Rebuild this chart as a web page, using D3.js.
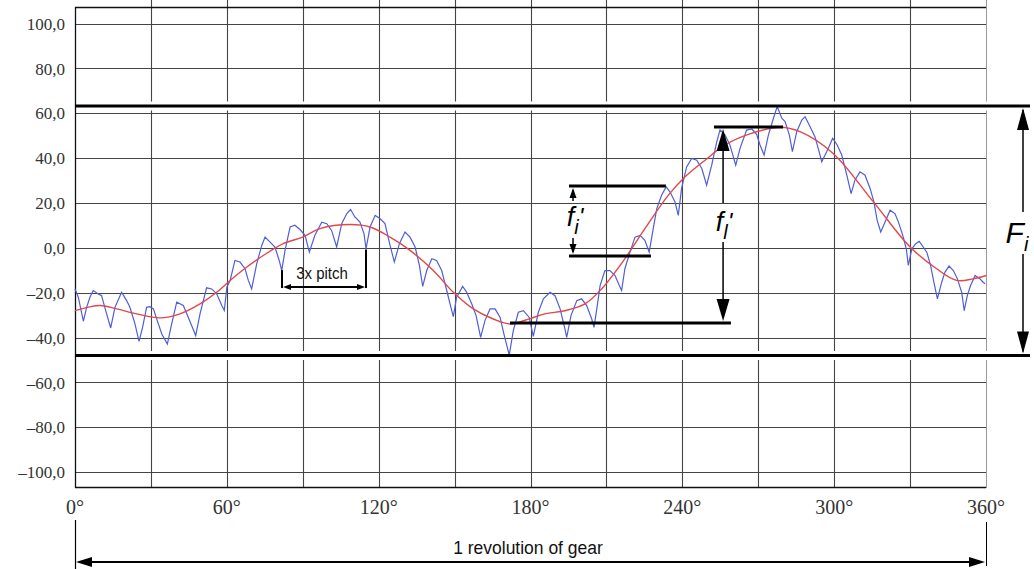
<!DOCTYPE html>
<html>
<head>
<meta charset="utf-8">
<script src="https://cdn.jsdelivr.net/npm/d3@7"></script>
<style>
html,body{margin:0;padding:0;background:#fff;}
svg{display:block;}
</style>
</head>
<body>
<svg id="chart" width="1034" height="569"></svg>
<script>
// ---------- DATA ----------
const xTicks = [0, 60, 120, 180, 240, 300, 360];
const xGrid = [0, 30, 60, 90, 120, 150, 180, 210, 240, 270, 300, 330, 360];
const yTicks = [100, 80, 60, 40, 20, 0, -20, -40, -60, -80, -100];

// measured (blue) trace: angle in degrees, deviation
const blueDeg = [0,1.3,3.3,4.6,5.9,7.2,9.2,10.5,12.5,14.1,15.8,18.4,20.4,21.7,23.7,25.3,26.7,28.3,29.6,31,32.5,34.3,36.5,38.2,40.2,42.8,44.8,47.7,49.4,52,54,56,58,59,60,61.3,63.2,65.2,67.2,68.5,69.8,71.8,73.8,75.1,77.1,79,80.7,81.7,83,85,86.9,88.9,90.9,92.6,94.8,97.5,99.5,101.4,103.4,105.4,107.4,108.9,110.6,112.6,114.2,115,116.6,118.6,120.5,122.5,124.5,126.2,128.2,130.4,132.4,134.4,136.1,137.4,139,141,142.9,144.9,146.9,148.2,149.5,150.8,153.2,154.8,156.8,158.5,160.3,162,164,166,168,169.5,171.6,173.2,175.2,177.2,179.5,181.1,183.1,185.1,187.7,189.7,191.7,193.6,194.3,196,198.3,200.2,202.2,204.2,205.1,206.2,207.5,209.4,211.4,213.4,215.1,216,217.3,219.3,221.3,223.3,225.2,226.9,228.5,229.9,231.8,233.6,235.1,237.1,238.4,239.7,241.7,243.7,245.7,247.7,249.6,251.6,253.6,254.9,256.9,258.8,261.1,262.8,265.4,267.5,269.4,270.7,272.3,274,276,277.5,279.3,280.6,282.3,283.5,285.2,287.2,288.5,290.5,292.4,293.7,295.1,296.4,297.7,299.4,301.2,303,305,306.7,308.2,310.2,312.2,314.2,315.7,317,318.4,320.1,322.1,324,325.4,327.1,328.5,329.3,330.7,332.2,333.6,335.2,336.6,338.1,339.4,340.8,342.5,343.8,345.4,347.1,348.7,350.4,351.4,352.6,353.9,355.7,357.6,358.9,359.6];
const blueVal = [-18.3,-22,-32.7,-26.5,-22,-19,-20.5,-21.3,-29.4,-35.7,-26.5,-19.8,-23.5,-26.5,-33.9,-41.7,-35.4,-26.5,-26.2,-27.2,-32.4,-38.4,-42.9,-33.9,-24.2,-25.7,-31,-39.1,-29.4,-17.8,-18.3,-20.5,-25.7,-27.9,-17.5,-14.5,-5.6,-6.3,-9.3,-14.5,-18.3,-7.1,1.1,4.8,2.6,0.4,-5.6,-10.1,-1.1,9.3,10.1,8.2,5.6,-1.9,5.6,11.5,10.8,7.8,0.4,10.8,15.3,17.1,13.8,11.5,6.4,-0.4,9.3,14.5,13.1,10.8,1.1,-6.3,1.9,7.1,4.8,0.4,-7.8,-17.2,-10.1,-4.8,-5.6,-10.1,-19,-25,-30.6,-22,-17.2,-19.8,-25,-30.2,-39.9,-32.4,-27.2,-27.2,-31,-38.4,-47.8,-36.9,-28.7,-28,-31,-39.5,-28.7,-22.7,-19.8,-21.3,-27.2,-36.1,-39.9,-30.2,-23.5,-22.7,-25.7,-31.7,-35.4,-27.2,-16.8,-10.1,-10.1,-12.3,-16.8,-19,-9.3,-1.9,4.8,5.6,3.4,-1.9,8.6,17.5,23.5,27.2,25,20.5,14.5,26.5,36.1,39.9,39.1,35.4,28,36.9,47.3,52.6,50.3,45.9,36.9,44.4,52.5,53,50.5,45.9,41.4,50.3,57.8,63,57.8,56.3,50.3,42.9,51.8,57,58.5,54,49.6,44.4,38.4,41.4,44.4,48.9,45.9,41.4,32.4,24.2,30.2,33.9,32.4,26.5,20.5,12.3,7.1,11.5,16.8,15.3,11.5,5.6,-0.4,-7.8,-0.4,1.9,2.9,0.4,-1.9,-7.8,-15.3,-22.7,-15.3,-10.8,-8.1,-10.1,-13.8,-19.8,-28,-21.3,-16.8,-12.3,-13.8,-15.3,-16];

// long-wave (red) component
const redDeg = [0,5,10,16.5,24.4,33.6,41.5,49.4,56,61.3,67.8,74.4,82.3,90,96.8,108.7,116.6,124.5,132.4,141.6,149.5,157.4,165.3,171.9,179.8,185.7,193.6,201.5,208.1,217.3,225.2,234.5,241.1,249,256.9,266.7,278.6,286.5,299.6,315.5,330,340.5,348.4,354.9,360];
const redVal = [-28,-26.5,-25.7,-27.2,-29.4,-31.2,-29.4,-25,-19.8,-14.5,-8.6,-3.4,1.9,4.8,8.6,10.4,9.3,4.8,-1.1,-10.1,-19.8,-27.2,-31.7,-33.9,-31.5,-29.4,-28,-25,-18.3,-4.8,8.6,23.5,31.7,39.1,45.9,50.8,53.8,51.8,42.1,20.5,0.4,-9.3,-14.5,-13.8,-12.3];

// annotation levels (deg / deviation units)
const FiTop = 63.3, FiBottom = -48.0;
const fiSmall = {top: 27.6, bottom: -3.6, x: 196.8, x0: 195.2, x1Top: 233.5, x1Bot: 227.6};
const flBig = {top: 53.9, bottom: -33.5, x: 256.1, topX0: 252.5, topX1: 279.8, botX0: 171.9, botX1: 259.2};
const pitch = {x0: 81.8, x1: 115, y0Left: -9.9, y0Right: -0.7, yArrow: -17.4, yEnd: -17.9, labelX: 97.6, labelY: -13.9};

// ---------- DRAW ----------
const svg = d3.select("#chart");
const W = 1034, H = 569;
const x = d3.scaleLinear().domain([0, 360]).range([75, 986]);
const y = d3.scaleLinear().domain([-106.6, 107.4]).range([487, 7]);

const gridColor = "#444";
const serif = "'Liberation Serif','Times New Roman',serif";
const sans = "'Liberation Sans',Arial,sans-serif";

// horizontal grid
svg.append("g").selectAll("line").data(yTicks).join("line")
  .attr("x1", x(0)).attr("x2", x(360))
  .attr("y1", d => Math.round(y(d)) + 0.5).attr("y2", d => Math.round(y(d)) + 0.5)
  .attr("stroke", gridColor).attr("stroke-width", 1.1);

// vertical grid
svg.append("g").selectAll("line").data(xGrid.slice(1, -1)).join("line")
  .attr("x1", d => Math.round(x(d)) + 0.5).attr("x2", d => Math.round(x(d)) + 0.5)
  .attr("y1", 0).attr("y2", y.range()[0])
  .attr("stroke", gridColor).attr("stroke-width", 1.1);

// frame
svg.append("line").attr("x1", x(0)).attr("x2", x(360)).attr("y1", 7.5).attr("y2", 7.5)
  .attr("stroke", "#111").attr("stroke-width", 1.3);
svg.append("line").attr("x1", x(0) + 0.5).attr("x2", x(0) + 0.5).attr("y1", 7).attr("y2", 488)
  .attr("stroke", "#111").attr("stroke-width", 1.3);
svg.append("line").attr("x1", x(0)).attr("x2", x(360)).attr("y1", 487.5).attr("y2", 487.5)
  .attr("stroke", "#111").attr("stroke-width", 1.3);
svg.append("line").attr("x1", Math.round(x(360)) + 0.5).attr("x2", Math.round(x(360)) + 0.5).attr("y1", 0).attr("y2", 488)
  .attr("stroke", "#9a9a9a").attr("stroke-width", 1);

// y labels
svg.append("g").selectAll("text").data(yTicks).join("text")
  .attr("x", 65).attr("y", d => y(d)).attr("dy", "0.36em")
  .attr("text-anchor", "end").attr("font-family", serif).attr("font-size", 17).attr("fill", "#333")
  .text(d => (d < 0 ? "\u2013" : "") + Math.abs(d).toFixed(1).replace(".", ","));

// x labels
svg.append("g").selectAll("text").data(xTicks).join("text")
  .attr("x", d => x(d)).attr("y", 514)
  .attr("text-anchor", "middle").attr("font-family", serif).attr("font-size", 20).attr("fill", "#333")
  .text(d => d + "\u00B0");

// white halos for the thick limit lines
[FiTop, FiBottom].forEach(v => {
  svg.append("line").attr("x1", x(0) + 2).attr("x2", W - 4).attr("y1", y(v)).attr("y2", y(v))
    .attr("stroke", "#fff").attr("stroke-width", 9);
});

// curves
const blue = blueDeg.map((d, i) => [d, blueVal[i]]);
const red = redDeg.map((d, i) => [d, redVal[i]]);
svg.append("path").datum(blue)
  .attr("d", d3.line().x(d => x(d[0])).y(d => y(d[1])).curve(d3.curveLinear))
  .attr("fill", "none").attr("stroke", "#4f5fd6").attr("stroke-width", 1.2);
svg.append("path").datum(red)
  .attr("d", d3.line().x(d => x(d[0])).y(d => y(d[1])).curve(d3.curveCatmullRom.alpha(0.5)))
  .attr("fill", "none").attr("stroke", "#e0484a").attr("stroke-width", 1.4);

// thick limit lines
[FiTop, FiBottom].forEach(v => {
  svg.append("line").attr("x1", x(0)).attr("x2", W - 4).attr("y1", y(v)).attr("y2", y(v))
    .attr("stroke", "#000").attr("stroke-width", 3);
});

// helpers
function hline(x0, x1, yy, w) {
  svg.append("line").attr("x1", x0).attr("x2", x1).attr("y1", yy).attr("y2", yy)
    .attr("stroke", "#000").attr("stroke-width", w);
}
function vline(xx, y0, y1, w) {
  svg.append("line").attr("x1", xx).attr("x2", xx).attr("y1", y0).attr("y2", y1)
    .attr("stroke", "#000").attr("stroke-width", w);
}
function head(tx, ty, dir, len, wid) {
  let pts;
  if (dir === "up") pts = [[tx, ty], [tx - wid / 2, ty + len], [tx + wid / 2, ty + len]];
  if (dir === "down") pts = [[tx, ty], [tx - wid / 2, ty - len], [tx + wid / 2, ty - len]];
  if (dir === "left") pts = [[tx, ty], [tx + len, ty - wid / 2], [tx + len, ty + wid / 2]];
  if (dir === "right") pts = [[tx, ty], [tx - len, ty - wid / 2], [tx - len, ty + wid / 2]];
  svg.append("polygon").attr("points", pts.map(p => p.join(",")).join(" ")).attr("fill", "#000");
}
function italicLabel(cx, cy, main, sub, size, subSize, prime) {
  const t = svg.append("text").attr("x", cx).attr("y", cy).attr("text-anchor", "middle")
    .attr("font-family", sans).attr("font-style", "italic").attr("font-size", size).attr("fill", "#000");
  t.append("tspan").text(main);
  t.append("tspan").attr("font-size", subSize).attr("dy", size * 0.28).text(sub);
  if (prime) t.append("tspan").attr("dy", -size * 0.32).attr("font-size", size * 0.9).text("'");
}

// F_i
const fX = 1023;
vline(fX, y(FiTop) + 4, 212, 1.5);
vline(fX, 254, y(FiBottom) - 4, 1.5);
head(fX, y(FiTop) + 2, "up", 22, 12);
head(fX, y(FiBottom) - 2, "down", 22, 12);
italicLabel(1017, 243, "F", "i", 30, 20, false);

// f_i' small
hline(x(fiSmall.x0), x(fiSmall.x1Top), y(fiSmall.top), 3);
hline(x(fiSmall.x0), x(fiSmall.x1Bot), y(fiSmall.bottom), 3);
vline(x(fiSmall.x), y(fiSmall.top) + 4, 201, 1.5);
vline(x(fiSmall.x), 238, y(fiSmall.bottom) - 4, 1.5);
head(x(fiSmall.x), y(fiSmall.top) + 2, "up", 10, 7);
head(x(fiSmall.x), y(fiSmall.bottom) - 2, "down", 10, 7);
italicLabel(x(fiSmall.x) + 2, 226, "f", "i", 27, 20, true);

// f_l' big
hline(x(flBig.topX0), x(flBig.topX1), y(flBig.top), 3);
hline(x(flBig.botX0), x(flBig.botX1), y(flBig.bottom), 3);
vline(x(flBig.x), y(flBig.top) + 6, 203, 1.5);
vline(x(flBig.x), 242, y(flBig.bottom) - 6, 1.5);
head(x(flBig.x), y(flBig.top) + 2, "up", 22, 13);
head(x(flBig.x), y(flBig.bottom) - 2, "down", 22, 13);
italicLabel(x(flBig.x) + 1, 231, "f", "l", 27, 20, true);

// 3x pitch
vline(x(pitch.x0), y(pitch.y0Left), y(pitch.yEnd), 2);
vline(x(pitch.x1), y(pitch.y0Right), y(pitch.yEnd), 2);
hline(x(pitch.x0) + 6, x(pitch.x1) - 6, y(pitch.yArrow), 2);
head(x(pitch.x0) + 1, y(pitch.yArrow), "left", 8, 6);
head(x(pitch.x1) - 1, y(pitch.yArrow), "right", 8, 6);
svg.append("text").attr("x", x(pitch.labelX)).attr("y", y(pitch.labelY))
  .attr("text-anchor", "middle").attr("font-family", sans).attr("font-size", 15).attr("fill", "#111")
  .attr("transform", `translate(0,${y(pitch.labelY)}) scale(1,1.12) translate(0,${-y(pitch.labelY)})`)
  .text("3x pitch");

// 1 revolution of gear
vline(x(0) + 0.5, 520, H, 1.2);
vline(Math.round(x(360)) + 0.5, 522, 566, 1);
hline(x(0) + 10, x(360) - 10, 562, 2.2);
head(x(0) + 1, 562, "left", 16, 10);
head(x(360) - 1, 562, "right", 16, 10);
svg.append("text").attr("x", 528).attr("y", 554).attr("text-anchor", "middle")
  .attr("font-family", sans).attr("font-size", 17.5).attr("fill", "#111")
  .attr("transform", "translate(0,554) scale(1,1.1) translate(0,-554)")
  .text("1 revolution of gear");
</script>
</body>
</html>
